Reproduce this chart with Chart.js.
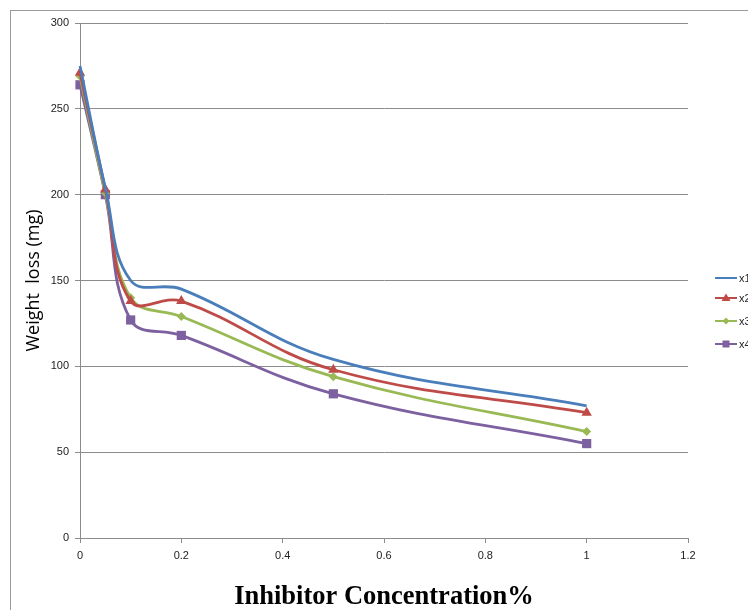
<!DOCTYPE html>
<html>
<head>
<meta charset="utf-8">
<script src="https://cdn.jsdelivr.net/npm/chart.js@4.4.0/dist/chart.umd.min.js"></script>
<style>
  html, body { margin: 0; padding: 0; background: #fff; overflow: hidden; }
  canvas { display: block; }
</style>
</head>
<body>
<canvas id="weight-chart" width="748" height="610"></canvas>
<script>
// inhibitor concentration (%) and weight loss (mg) for each series
var concentration = [0, 0.05, 0.1, 0.2, 0.5, 1];
var seriesNames = ["x1", "x2", "x3", "x4"];
var x1Values = [275, 204, 150, 145, 104, 77];
var x2Values = [271, 203, 138, 138, 98, 73];
var x3Values = [269, 201, 140, 129, 94, 62];
var x4Values = [264, 200, 127, 118, 84, 55];
var xTickLabels = ["0", "0.2", "0.4", "0.6", "0.8", "1", "1.2"];
var yTickLabels = ["0", "50", "100", "150", "200", "250", "300"];

function toPoints(values) {
  return concentration.map(function (c, i) { return { x: c, y: values[i] }; });
}

var colors = ["#4a7ebb", "#be4b48", "#98b954", "#7d60a0"];
var styles = [false, "triangle", "rectRot", "rect"];
var radii = [0, 6, 4.5, 6.5];
var allValues = [x1Values, x2Values, x3Values, x4Values];

var datasets = allValues.map(function (vals, i) {
  return {
    label: seriesNames[i],
    data: toPoints(vals),
    borderColor: colors[i],
    backgroundColor: colors[i],
    borderWidth: 2.8,
    tension: 0.4,
    clip: false,
    pointStyle: styles[i],
    pointRadius: radii[i],
    pointHoverRadius: radii[i],
    pointBorderWidth: 0,
    fill: false,
  };
});

// grey frame + custom legend (line sample with marker, clipped at the right edge)
var framePlugin = {
  id: "frameAndLegend",
  beforeDraw: function (chart) {
    var ctx = chart.ctx;
    ctx.save();
    ctx.fillStyle = "#fff";
    ctx.fillRect(0, 0, chart.width, chart.height);
    ctx.strokeStyle = "#9a9a9a";
    ctx.lineWidth = 1;
    ctx.strokeRect(10.5, 10.5, 800, 800);
    ctx.restore();
  },
  afterDraw: function (chart) {
    var ctx = chart.ctx;
    var rows = [278, 298, 321, 344];
    ctx.save();
    chart.data.datasets.forEach(function (ds, i) {
      var y = rows[i];
      ctx.strokeStyle = ds.borderColor;
      ctx.lineWidth = 2;
      ctx.beginPath();
      ctx.moveTo(715, y);
      ctx.lineTo(737, y);
      ctx.stroke();
      ctx.fillStyle = ds.borderColor;
      var cx = 726;
      ctx.beginPath();
      if (ds.pointStyle === "triangle") {
        ctx.moveTo(cx, y - 4.5);
        ctx.lineTo(cx + 4.5, y + 3);
        ctx.lineTo(cx - 4.5, y + 3);
        ctx.closePath();
        ctx.fill();
      } else if (ds.pointStyle === "rectRot") {
        ctx.moveTo(cx, y - 3.5);
        ctx.lineTo(cx + 3.5, y);
        ctx.lineTo(cx, y + 3.5);
        ctx.lineTo(cx - 3.5, y);
        ctx.closePath();
        ctx.fill();
      } else if (ds.pointStyle === "rect") {
        ctx.fillRect(cx - 3.5, y - 3.5, 7, 7);
      }
      ctx.fillStyle = "#222";
      ctx.font = "11px 'Liberation Sans Narrow', 'Liberation Sans', Arial, sans-serif";
      ctx.textBaseline = "middle";
      ctx.textAlign = "left";
      ctx.fillText(ds.label, 739, y + 1);
    });
    ctx.restore();
  },
};

var ctx = document.getElementById("weight-chart").getContext("2d");

new Chart(ctx, {
  type: "line",
  data: { datasets: datasets },
  plugins: [framePlugin],
  options: {
    responsive: false,
    animation: false,
    layout: {
      padding: { left: 10, right: 60, top: 23, bottom: 0 },
    },
    plugins: {
      legend: { display: false },
      tooltip: { enabled: false },
    },
    scales: {
      x: {
        type: "linear",
        min: 0,
        max: 1.2,
        afterFit: function (scale) { scale.height = 72; },
        afterBuildTicks: function (scale) {
          scale.ticks = xTickLabels.map(function (t) { return { value: parseFloat(t) }; });
        },
        grid: {
          display: true,
          drawOnChartArea: false,
          drawTicks: true,
          tickLength: 5,
          color: "#8c8c8c",
        },
        border: { display: true, color: "#8c8c8c", width: 1 },
        ticks: {
          padding: 6,
          color: "#222",
          maxRotation: 0,
          font: { size: 11, family: "'Liberation Sans Narrow', 'Liberation Sans', Arial, sans-serif" },
          callback: function (value, index) { return xTickLabels[index]; },
        },
        title: {
          display: true,
          text: "Inhibitor Concentration%",
          color: "#000",
          padding: { top: 0, bottom: 0 },
          font: { size: 26.5, weight: "bold", family: "'Liberation Serif', 'Times New Roman', serif", lineHeight: 1 },
        },
      },
      y: {
        type: "linear",
        min: 0,
        max: 300,
        afterFit: function (scale) { scale.width = 70; },
        afterBuildTicks: function (scale) {
          scale.ticks = yTickLabels.map(function (t) { return { value: parseFloat(t) }; });
        },
        grid: {
          display: true,
          drawOnChartArea: true,
          drawTicks: true,
          tickLength: 5,
          color: "#8c8c8c",
        },
        border: { display: true, color: "#8c8c8c", width: 1 },
        ticks: {
          padding: 6,
          color: "#222",
          font: { size: 11, family: "'Liberation Sans Narrow', 'Liberation Sans', Arial, sans-serif" },
          callback: function (value, index) { return yTickLabels[index]; },
        },
        title: {
          display: true,
          text: "Weight  loss (mg)",
          color: "#000",
          padding: { top: 13, bottom: 0 },
          font: { size: 18, family: "'Open Sans', 'Liberation Sans', sans-serif" },
        },
      },
    },
  },
});
</script>
</body>
</html>
